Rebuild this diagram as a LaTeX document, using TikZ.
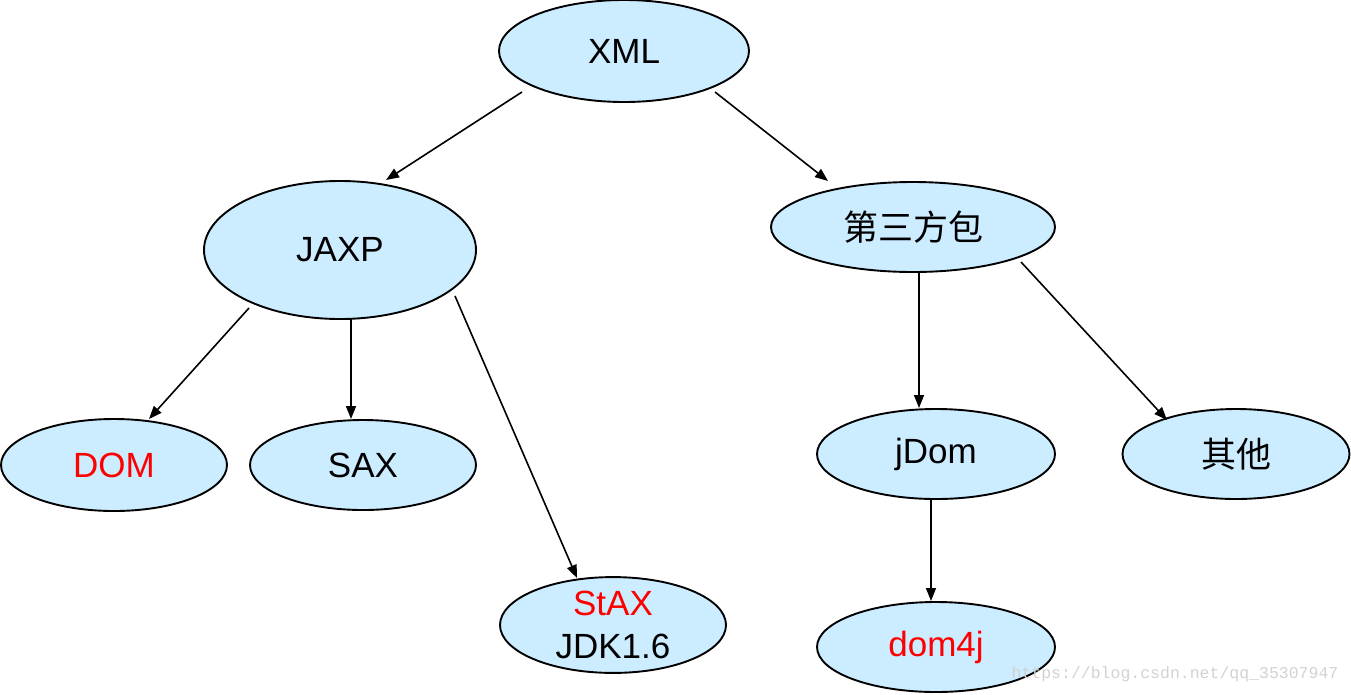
\documentclass[tikz,border=0pt]{standalone}
\usepackage{fontspec}
\setmainfont{Liberation Sans}
\newfontfamily\cjk{Noto Sans CJK SC}
\newfontfamily\wmfont{Liberation Mono}
\usetikzlibrary{shapes.geometric,arrows.meta}
\definecolor{nodefill}{HTML}{CCECFF}
\definecolor{wmgray}{HTML}{D2D2D2}
\begin{document}
\begin{tikzpicture}[x=1pt,y=-1pt,
  bubble/.style={ellipse,draw=black,line width=1.9pt,fill=nodefill,inner sep=0pt,
    font=\fontsize{35}{43}\selectfont,align=center},
  conn/.style={line width=1.6pt,-{Triangle[length=13pt,width=10pt]}},
  redtxt/.style={text=red}]
\useasboundingbox (0,0) rectangle (1351,694);
\node[bubble,minimum width=250pt,minimum height=102pt] (xml) at (624,51) {XML};
\node[bubble,minimum width=272pt,minimum height=138pt] (jaxp) at (340,250) {JAXP};
\node[bubble,minimum width=284pt,minimum height=90pt] (third) at (913,227) {\cjk 第三方包};
\node[bubble,minimum width=226pt,minimum height=92pt,redtxt] (dom) at (114,465) {DOM};
\node[bubble,minimum width=226pt,minimum height=90pt] (sax) at (363,465) {SAX};
\node[bubble,minimum width=226pt,minimum height=90pt] (stax) at (613,625) {\textcolor{red}{StAX}\\JDK1.6};
\node[bubble,minimum width=238pt,minimum height=90pt] (jdom) at (936,454) {\raisebox{-3pt}{jDom}};
\node[bubble,minimum width=227pt,minimum height=90pt] (other) at (1236,454) {\cjk 其他};
\node[bubble,minimum width=238pt,minimum height=90pt,redtxt] (dom4j) at (936,647) {\raisebox{-3pt}{dom4j}};
\node[text=wmgray,font=\wmfont\fontsize{16.5}{18}\selectfont,inner sep=0pt] (wm) at (1175,674) {https://blog.csdn.net/qq\_35307947};
\draw[conn] ([shift={(-102,41)}]xml.center) -- ([shift={(46,-70)}]jaxp.center);
\draw[conn] ([shift={(91,41)}]xml.center) -- ([shift={(-85,-46)}]third.center);
\draw[conn] ([shift={(-91,58)}]jaxp.center) -- ([shift={(35,-46)}]dom.center);
\draw[conn] ([shift={(11,69)}]jaxp.center) -- ([shift={(-12,-46)}]sax.center);
\draw[conn] ([shift={(115,46)}]jaxp.center) -- ([shift={(-36,-47)}]stax.center);
\draw[conn] ([shift={(6,45)}]third.center) -- ([shift={(-17,-46)}]jdom.center);
\draw[conn] ([shift={(108,35)}]third.center) -- ([shift={(-69,-34)}]other.center);
\draw[conn] ([shift={(-5,45)}]jdom.center) -- ([shift={(-5,-46)}]dom4j.center);
\end{tikzpicture}
\end{document}
